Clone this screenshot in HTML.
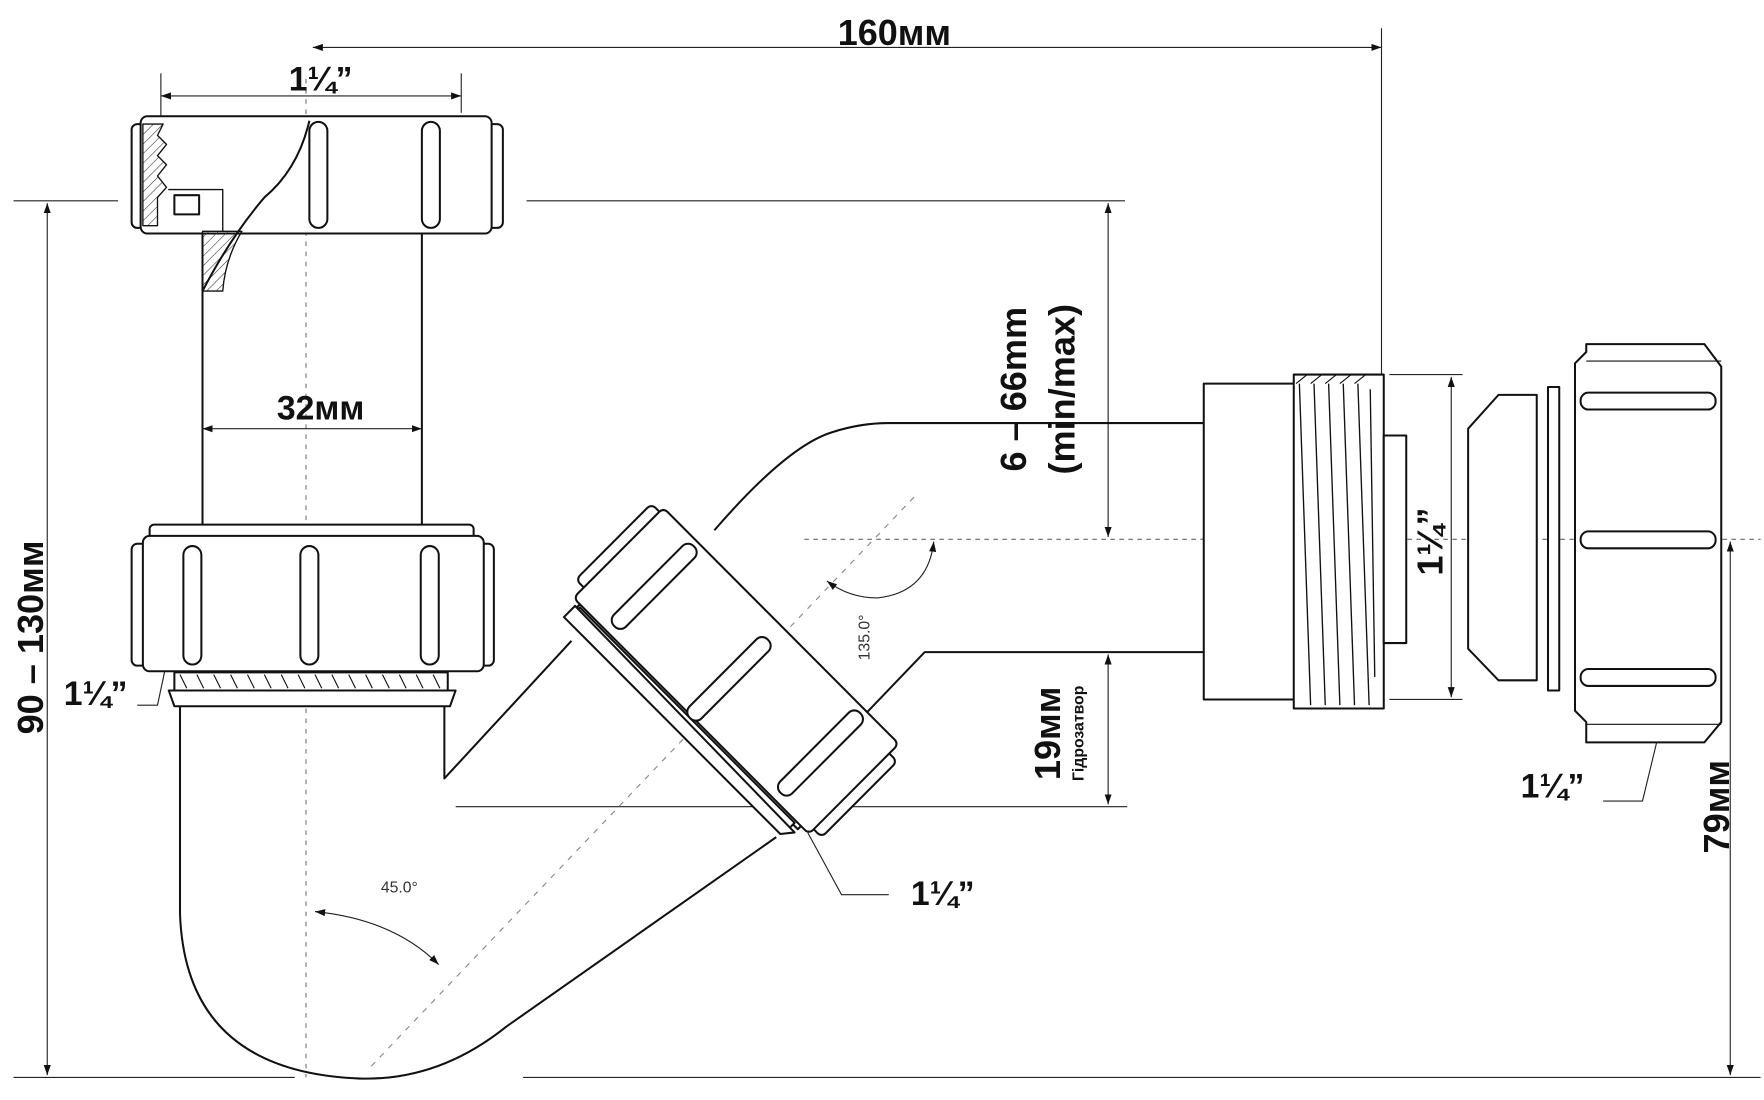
<!DOCTYPE html>
<html><head><meta charset="utf-8"><style>
html,body{margin:0;padding:0;background:#fff;}
svg{display:block}
.t{font-family:"Liberation Sans Narrow","Liberation Sans",sans-serif;font-weight:bold;fill:#111}
.w{font-family:"Liberation Sans",sans-serif;font-weight:bold;fill:#111}
</style></head><body>
<svg width="1764" height="1100" viewBox="0 0 1568 975" preserveAspectRatio="none" xmlns="http://www.w3.org/2000/svg">
<defs>
<marker id="a" viewBox="0 0 10 10" refX="10" refY="5" markerWidth="9" markerHeight="9" orient="auto-start-reverse"><path d="M0,1.5 L10,5 L0,8.5 z" fill="#111"/></marker>
<pattern id="h" width="6" height="6" patternUnits="userSpaceOnUse" patternTransform="rotate(45)"><line x1="0" y1="0" x2="0" y2="6" stroke="#333" stroke-width="1"/></pattern>
</defs>
<rect width="1568" height="975" fill="#fff"/>
<g stroke="#222" stroke-width="1" fill="none">
<line x1="12" y1="178" x2="105" y2="178"/>
<line x1="468" y1="178" x2="1000" y2="178"/>
<line x1="12" y1="955" x2="262" y2="955"/>
<line x1="465" y1="955" x2="1565" y2="955"/>
<line x1="405" y1="715" x2="1002" y2="715"/>
<line x1="835" y1="578" x2="1002" y2="578"/>
<line x1="1228" y1="25" x2="1228" y2="332"/>
<line x1="143" y1="65" x2="143" y2="112"/>
<line x1="410" y1="65" x2="410" y2="100"/>
<line x1="1235" y1="332" x2="1300" y2="332"/>
<line x1="1235" y1="620" x2="1300" y2="620"/>
<line x1="715" y1="478" x2="1565" y2="478" stroke-dasharray="4,4" stroke="#666"/>
<line x1="272" y1="70" x2="272" y2="955" stroke-dasharray="4,5" stroke="#777"/>
<line x1="330" y1="945" x2="815" y2="438" stroke-dasharray="5,6" stroke="#888"/>
<line x1="278" y1="42" x2="1228" y2="42" marker-start="url(#a)" marker-end="url(#a)"/>
<line x1="143" y1="85" x2="410" y2="85" marker-start="url(#a)" marker-end="url(#a)"/>
<line x1="180" y1="380" x2="375" y2="380" marker-start="url(#a)" marker-end="url(#a)"/>
<line x1="42" y1="180" x2="42" y2="953" marker-start="url(#a)" marker-end="url(#a)"/>
<line x1="985" y1="180" x2="985" y2="476" marker-start="url(#a)" marker-end="url(#a)"/>
<line x1="985" y1="580" x2="985" y2="713" marker-start="url(#a)" marker-end="url(#a)"/>
<line x1="1290" y1="334" x2="1290" y2="618" marker-start="url(#a)" marker-end="url(#a)"/>
<line x1="1538" y1="480" x2="1538" y2="953" marker-start="url(#a)" marker-end="url(#a)"/>
<path d="M280,808 Q350,815 390,855" marker-start="url(#a)" marker-end="url(#a)"/>
<path d="M830,480 Q825,525 780,530 Q755,530 735,515" marker-start="url(#a)" marker-end="url(#a)"/>
<path d="M150,578 L140,625 L122,625"/>
<path d="M718,738 L748,793 L790,793"/>
<path d="M1475,648 L1460,710 L1425,710"/>
</g>

<g stroke="#111" stroke-width="1.8" fill="#fff" stroke-linejoin="round">
<line x1="180" y1="207" x2="180" y2="467"/>
<line x1="375" y1="207" x2="375" y2="467"/>
<rect x="117" y="110" width="14" height="92" rx="5"/>
<rect x="433" y="110" width="14" height="92" rx="5"/>
<rect x="125" y="103" width="312" height="104" rx="6"/>
<path d="M127,110 L145,110 L140,120 L148,128 L140,138 L148,146 L140,156 L148,166 L140,175 L140,200 L127,200 Z" fill="url(#h)" stroke-width="1.2"/>
<path d="M150,168 L198,168 L198,205 L180,205 L180,258 L198,258 Q200,230 215,205 L198,205 L198,168 Z" fill="url(#h)" stroke-width="1.2"/>
<path d="M275,107 Q265,150 235,175 Q205,210 180,258" fill="none"/>
<rect x="155" y="173" width="22" height="17" fill="#fff"/>
<rect x="275" y="108" width="16" height="94" rx="8"/>
<rect x="375" y="108" width="16" height="94" rx="8"/>
<rect x="117" y="482" width="14" height="108" rx="5"/>
<rect x="425" y="482" width="14" height="108" rx="5"/>
<rect x="133" y="465" width="288" height="14" rx="4"/>
<rect x="127" y="475" width="303" height="120" rx="6"/>
<rect x="163" y="484" width="16" height="105" rx="8"/>
<rect x="267" y="484" width="16" height="105" rx="8"/>
<rect x="374" y="484" width="16" height="105" rx="8"/>
<path d="M155,596 L398,596 L398,612 L155,612 Z" fill="#fff"/>
<path d="M160,598 l6,12 M175,598 l6,12 M190,598 l6,12 M205,598 l6,12 M220,598 l6,12 M235,598 l6,12 M250,598 l6,12 M265,598 l6,12 M280,598 l6,12 M295,598 l6,12 M310,598 l6,12 M325,598 l6,12 M340,598 l6,12 M355,598 l6,12 M370,598 l6,12 M385,598 l6,12" stroke-width="1"/>
<path d="M150,612 L405,612 L400,626 L155,626 Z"/>
<path d="M160,626 L160,810 Q165,950 320,956 Q390,958 450,910 L690,742" fill="none"/>
<path d="M395,626 L395,690 L508,568" fill="none"/>
<path d="M635,470 Q700,395 740,383 Q765,375 790,375 L1070,375" fill="none"/>
<path d="M770,632 L822,578 L1070,578" fill="none"/>
<g transform="translate(654,595) rotate(45)">
<rect x="-140" y="52" width="278" height="8" />
<rect x="-138" y="58" width="270" height="8" />
<path d="M-142,60 L-142,74 L130,74 L138,64 Z"/>
<rect x="-158" y="-52" width="14" height="95" rx="5"/>
<rect x="144" y="-45" width="14" height="95" rx="5"/>
<rect x="-148" y="-57" width="296" height="113" rx="5"/>
<rect x="-112" y="-52" width="15" height="100" rx="7"/>
<rect x="-7" y="-40" width="15" height="98" rx="7"/>
<rect x="97" y="-52" width="15" height="100" rx="7"/>
</g>
<rect x="1070" y="340" width="82" height="280"/>
<rect x="1150" y="332" width="80" height="296"/>
<path d="M1152,340 L1162,332 M1165,340 L1175,332 M1178,340 L1188,332 M1191,340 L1201,332 M1204,340 L1214,332" stroke-width="1"/>
<path d="M1155,340 L1165,625 M1168,340 L1178,625 M1181,340 L1191,625 M1194,340 L1204,625 M1207,340 L1217,625 M1218,345 L1222,600" stroke-width="1.2" fill="none"/>
<rect x="1230" y="386" width="20" height="184"/>
<path d="M1305,380 L1332,350 L1366,350 L1366,603 L1332,603 L1305,575 Z"/>
<rect x="1376" y="343" width="10" height="269"/>
<path d="M1410,305 L1515,305 L1530,325 L1530,640 L1515,658 L1410,658 L1410,640 L1400,630 L1400,322 L1410,312 Z"/>
<line x1="1410" y1="320" x2="1530" y2="320" stroke-width="1"/>
<line x1="1410" y1="642" x2="1530" y2="642" stroke-width="1"/>
<rect x="1405" y="348" width="120" height="15" rx="7"/>
<rect x="1405" y="471" width="120" height="15" rx="7"/>
<rect x="1405" y="593" width="120" height="15" rx="7"/>
</g>

<text class="t" x="795" y="40" font-size="32" text-anchor="middle">160мм</text>
<text class="t" x="285" y="80" font-size="30" text-anchor="middle">1¼”</text>
<text class="t" x="285" y="372" font-size="30" text-anchor="middle">32мм</text>
<text class="t" x="85" y="625" font-size="30" text-anchor="middle">1¼”</text>
<text class="t" x="838" y="802" font-size="30" text-anchor="middle">1¼”</text>
<text class="t" x="1380" y="707" font-size="30" text-anchor="middle">1¼”</text>
<text x="355" y="791" font-size="14" font-family="Liberation Sans,sans-serif" fill="#333" text-anchor="middle">45.0°</text>
<text x="0" y="0" font-size="14" font-family="Liberation Sans,sans-serif" fill="#333" text-anchor="middle" transform="translate(773,565) rotate(-90)">135.0°</text>
<text class="w" font-size="32" text-anchor="middle" transform="translate(38,565) rotate(-90)">90 – 130мм</text>
<text class="w" font-size="32" text-anchor="middle" transform="translate(912,345) rotate(-90)">6 – 66mm</text>
<text class="w" font-size="32" text-anchor="middle" transform="translate(955,345) rotate(-90)">(min/max)</text>
<text class="w" font-size="32" text-anchor="middle" transform="translate(942,650) rotate(-90)">19мм</text>
<text class="w" font-size="14" text-anchor="middle" transform="translate(963,650) rotate(-90)">Гідрозатвор</text>
<text class="t" font-size="32" text-anchor="middle" transform="translate(1282,480) rotate(-90)">1¼”</text>
<text class="w" font-size="32" text-anchor="middle" transform="translate(1537,715) rotate(-90)">79мм</text>
</svg>
</body></html>
